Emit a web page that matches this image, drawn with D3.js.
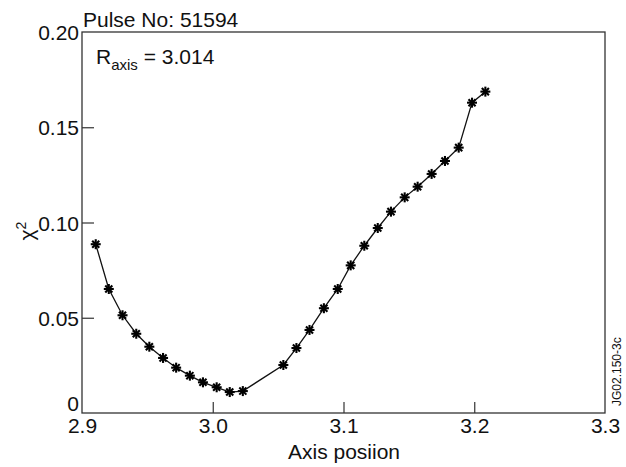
<!DOCTYPE html>
<html>
<head>
<meta charset="utf-8">
<script src="https://cdnjs.cloudflare.com/ajax/libs/d3/7.8.5/d3.min.js"></script>
<style>
  body { margin: 0; background: #fff; }
  text { font-family: "Liberation Sans", Arial, sans-serif; fill: #111; }
</style>
</head>
<body>
<div id="chart"></div>
<script>
var axisPos = [2.9105, 2.9205, 2.931, 2.9415, 2.9515, 2.962, 2.972, 2.9825, 2.9925, 3.003, 3.013, 3.023,
               3.054, 3.064, 3.074, 3.085, 3.0956, 3.1055, 3.1159, 3.1262, 3.1363, 3.1468, 3.1567,
               3.1674, 3.1776, 3.1881, 3.1983, 3.2085];
var chi2 = [0.0886, 0.0651, 0.0513, 0.0416, 0.0348, 0.0289, 0.0238, 0.0196, 0.0161, 0.0135, 0.0110, 0.0115,
            0.0252, 0.0341, 0.0436, 0.0550, 0.0651, 0.0775, 0.0878, 0.0971, 0.1057, 0.1132, 0.1188,
            0.1255, 0.1323, 0.1393, 0.1629, 0.1687];
var xTicks = [2.9, 3.0, 3.1, 3.2, 3.3];
var yTicks = [0, 0.05, 0.10, 0.15, 0.20];
var yTickLabels = ["0", "0.05", "0.10", "0.15", "0.20"];

var mLeft = 82, mRight = 605, mTop = 32, mBottom = 413;
var fs = 21;

var svg = d3.select("#chart")
    .append("svg")
    .attr("width", 626)
    .attr("height", 467);

var x = d3.scaleLinear().domain([2.9, 3.3]).range([mLeft, mRight]);
var y = d3.scaleLinear().domain([0, 0.2]).range([mBottom, mTop]);

// frame
svg.append("rect")
    .attr("x", mLeft)
    .attr("y", mTop)
    .attr("width", mRight - mLeft)
    .attr("height", mBottom - mTop)
    .attr("fill", "none")
    .attr("stroke", "#333")
    .attr("stroke-width", 1.3);

// inward ticks
var xAxis = svg.append("g")
    .attr("transform", "translate(0," + mBottom + ")")
    .call(d3.axisBottom(x).tickValues(xTicks).tickSizeInner(-11).tickSizeOuter(0).tickPadding(5)
        .tickFormat(d3.format(".1f")));
xAxis.select(".domain").remove();
xAxis.selectAll("line").attr("stroke", "#333").attr("stroke-width", 1.2);
xAxis.selectAll(".tick").filter(function(d) { return d === 2.9 || d === 3.3; })
    .select("line").remove();
xAxis.selectAll("text").attr("font-size", fs).attr("fill", "#111")
    .attr("font-family", "Liberation Sans, Arial, sans-serif")
    .attr("y", 20).attr("dy", 0);

var yAxis = svg.append("g")
    .attr("transform", "translate(" + mLeft + ",0)")
    .call(d3.axisLeft(y).tickValues(yTicks).tickSizeInner(-12).tickSizeOuter(0).tickPadding(3)
        .tickFormat(function(d, i) { return yTickLabels[i]; }));
yAxis.select(".domain").remove();
yAxis.selectAll("line").attr("stroke", "#333").attr("stroke-width", 1.2);
yAxis.selectAll("text").attr("font-size", fs).attr("fill", "#111")
    .attr("font-family", "Liberation Sans, Arial, sans-serif")
    .attr("dy", function(d) { return d === 0 ? "-0.1em" : "0.36em"; });
yAxis.selectAll(".tick").filter(function(d) { return d === 0 || d === 0.2; })
    .select("line").remove();

// data line
var pts = axisPos.map(function(d, i) { return [d, chi2[i]]; });
svg.append("path")
    .datum(pts)
    .attr("fill", "none")
    .attr("stroke", "#111")
    .attr("stroke-width", 1.3)
    .attr("d", d3.line().x(function(d) { return x(d[0]); }).y(function(d) { return y(d[1]); }));

// asterisk markers
var star = svg.append("g").selectAll("g")
    .data(pts)
    .enter().append("g")
    .attr("transform", function(d) { return "translate(" + x(d[0]) + "," + y(d[1]) + ")"; });
[0, 45, 90, 135].forEach(function(a) {
    star.append("line")
        .attr("x1", -5).attr("x2", 5)
        .attr("y1", 0).attr("y2", 0)
        .attr("transform", "rotate(" + a + ")")
        .attr("stroke", "#000")
        .attr("stroke-width", 2.1);
});

// labels
svg.append("text")
    .attr("x", 83)
    .attr("y", 27)
    .attr("font-size", fs)
    .text("Pulse No: 51594");

var r = svg.append("text")
    .attr("x", 96)
    .attr("y", 64)
    .attr("font-size", fs);
r.append("tspan").text("R");
r.append("tspan").attr("font-size", 15).attr("dy", 6).text("axis");
r.append("tspan").attr("dy", -6).text(" = 3.014");

svg.append("text")
    .attr("x", 344)
    .attr("y", 459)
    .attr("text-anchor", "middle")
    .attr("font-size", fs)
    .text("Axis posiion");

var yl = svg.append("text")
    .attr("transform", "translate(34,231) rotate(-90)")
    .attr("text-anchor", "middle")
    .attr("font-size", fs);
yl.append("tspan").text("χ");
yl.append("tspan").attr("font-size", 14).attr("dy", -8).text("2");

svg.append("text")
    .attr("transform", "translate(621,406) rotate(-90)")
    .attr("font-size", 12)
    .text("JG02.150-3c");
</script>
</body>
</html>
